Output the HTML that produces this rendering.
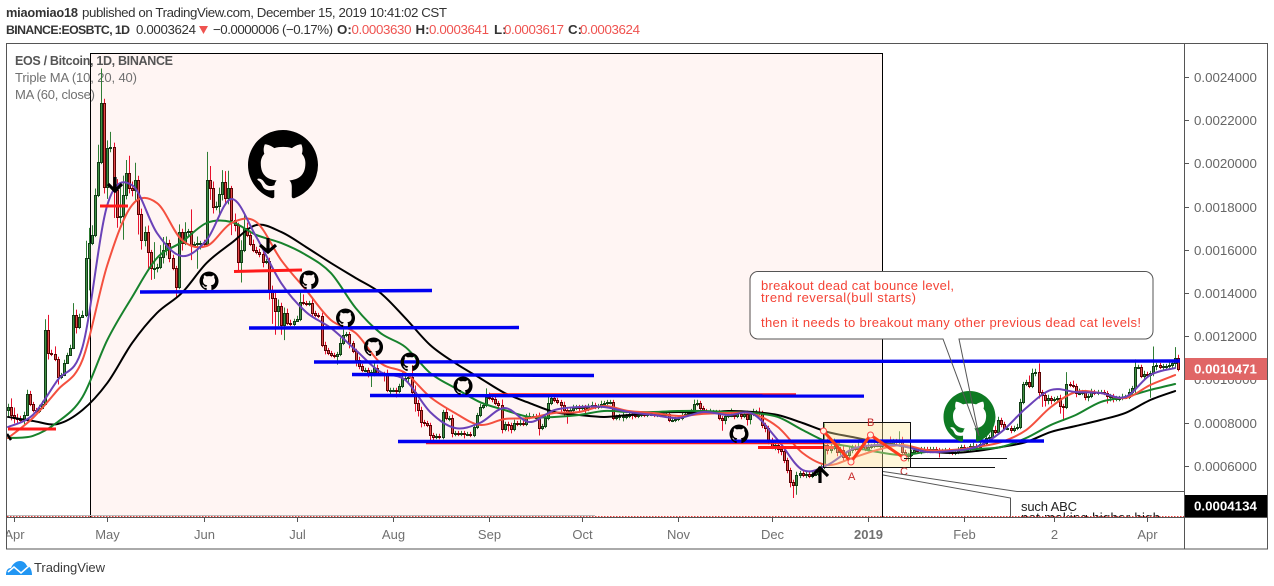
<!DOCTYPE html>
<html lang="en">
<head>
<meta charset="utf-8">
<title>EOS / Bitcoin chart</title>
<style>
html,body{margin:0;padding:0;background:#fff;width:1274px;height:586px;overflow:hidden}
svg{display:block;font-family:"Liberation Sans",sans-serif}
</style>
</head>
<body>
<svg id="chart" xmlns="http://www.w3.org/2000/svg" width="1274" height="586" viewBox="0 0 1274 586">
<defs>
<clipPath id="plot"><rect x="7" y="44" width="1177" height="473"/></clipPath>
<clipPath id="timeclip"><rect x="7" y="518" width="1177" height="31"/></clipPath>
<path id="mark" d="M8 0C3.58 0 0 3.58 0 8c0 3.54 2.29 6.53 5.47 7.59.4.07.55-.17.55-.38 0-.19-.01-.82-.01-1.49-2.01.37-2.53-.49-2.69-.94-.09-.23-.48-.94-.82-1.13-.28-.15-.68-.52-.01-.53.63-.01 1.08.58 1.23.82.72 1.21 1.87.87 2.33.66.07-.52.28-.87.51-1.07-1.78-.2-3.64-.89-3.64-3.95 0-.87.31-1.59.82-2.15-.08-.2-.36-1.02.08-2.12 0 0 .67-.21 2.2.82.64-.18 1.32-.27 2-.27.68 0 1.36.09 2 .27 1.53-1.04 2.2-.82 2.2-.82.44 1.1.16 1.92.08 2.12.51.56.82 1.28.82 2.15 0 3.07-1.87 3.75-3.65 3.95.29.25.54.73.54 1.48 0 1.07-.01 1.93-.01 2.2 0 .21.15.46.55.38A8.013 8.013 0 0016 8c0-4.42-3.58-8-8-8z"/>
</defs>

<g font-size="13.3" fill="#333">
<text x="6" y="17" font-size="12.8" font-weight="bold" textLength="72" lengthAdjust="spacing">miaomiao18</text>
<text x="82" y="17" textLength="365" lengthAdjust="spacing">published on TradingView.com, December 15, 2019 10:41:02 CST</text>
<text x="6" y="34" font-size="12.3" font-weight="bold" textLength="124" lengthAdjust="spacing">BINANCE:EOSBTC, 1D</text>
<text x="136" y="34" textLength="60">0.0003624</text>
<path d="M199 26H208L203.500 34Z" fill="#ef5350"/>
<text x="213" y="34" textLength="120">−0.0000006 (−0.17%)</text>
<text x="337" y="34" font-weight="bold">O:</text>
<text x="351.500" y="34" fill="#ef5350" textLength="60">0.0003630</text>
<text x="415.500" y="34" font-weight="bold">H:</text>
<text x="429" y="34" fill="#ef5350" textLength="60">0.0003641</text>
<text x="494" y="34" font-weight="bold">L:</text>
<text x="504" y="34" fill="#ef5350" textLength="60">0.0003617</text>
<text x="568" y="34" font-weight="bold">C:</text>
<text x="580" y="34" fill="#ef5350" textLength="60">0.0003624</text>
</g>

<rect x="90.500" y="53.500" width="792" height="464" fill="#fff5f3" stroke="#000" stroke-width="1"/>

<g font-size="13">
<text x="15" y="65" font-size="12.5" font-weight="bold" fill="#555" textLength="158" lengthAdjust="spacing">EOS / Bitcoin, 1D, BINANCE</text>
<text x="15" y="82" fill="#707070" textLength="122" lengthAdjust="spacing">Triple MA (10, 20, 40)</text>
<text x="15" y="99" fill="#707070" textLength="80" lengthAdjust="spacing">MA (60, close)</text>
</g>

<g id="candles" clip-path="url(#plot)"></g>
<g id="averages" clip-path="url(#plot)" fill="none" stroke-width="2" stroke-linejoin="round" stroke-linecap="round"></g>

<g clip-path="url(#plot)">
<g stroke="#ff1a1a" fill="none">
<line x1="8" y1="429" x2="56" y2="429" stroke-width="3"/>
<line x1="100" y1="206" x2="128" y2="206" stroke-width="3"/>
<line x1="234" y1="271.500" x2="302" y2="270" stroke-width="3"/>
<line x1="758" y1="447.500" x2="834" y2="447.500" stroke-width="3"/>
<line x1="490" y1="394" x2="796" y2="394" stroke-width="1.500"/>
<line x1="426" y1="443.500" x2="840" y2="443.500" stroke-width="1.500"/>
</g>
<rect x="823.500" y="422.500" width="87" height="45" fill="#ffe9a0" fill-opacity=".38" stroke="#111" stroke-width="1"/>
<g stroke="#0000f0" stroke-width="3.400">
<line x1="140" y1="292" x2="432" y2="290.500"/>
<line x1="249" y1="328" x2="519" y2="327.500"/>
<line x1="314" y1="362" x2="1180" y2="361"/>
<line x1="352" y1="374.500" x2="594" y2="375.500"/>
<line x1="370" y1="395.500" x2="864" y2="396"/>
<line x1="398" y1="441.500" x2="1044" y2="441"/>
</g>
<g>
<polyline points="823.500,431 851,462 870.500,435 904,458" fill="none" stroke="#ff3a1a" stroke-width="3"/>
<circle cx="823.500" cy="431" r="3" fill="#fff3e0" stroke="#f44" stroke-width="1"/>
<circle cx="851" cy="462" r="3" fill="#fff3e0" stroke="#f44" stroke-width="1"/>
<circle cx="870.500" cy="435" r="3" fill="#fff3e0" stroke="#f44" stroke-width="1"/>
<circle cx="904" cy="458" r="3" fill="#fff3e0" stroke="#f44" stroke-width="1"/>
<text x="867" y="426" font-size="11" fill="#c62828">B</text>
<text x="848" y="480" font-size="11" fill="#c62828">A</text>
<text x="900" y="475" font-size="11" fill="#c62828">C</text>
</g>
<g stroke="#111" stroke-width="1">
<line x1="904" y1="458.500" x2="1007" y2="458.500"/>
<line x1="911" y1="467.500" x2="995" y2="467.500"/>
</g>
<g fill="#000" fill-rule="evenodd">
<use href="#mark" transform="translate(248,130) scale(4.375)"/>
<use href="#mark" transform="translate(199.500,271.500) scale(1.190)"/>
<use href="#mark" transform="translate(299.500,270.500) scale(1.190)"/>
<use href="#mark" transform="translate(336,308.500) scale(1.190)"/>
<use href="#mark" transform="translate(364,337.500) scale(1.190)"/>
<use href="#mark" transform="translate(400.500,352.500) scale(1.190)"/>
<use href="#mark" transform="translate(453.500,376.500) scale(1.190)"/>
<use href="#mark" transform="translate(729.500,424.500) scale(1.190)"/>
<use href="#mark" fill="#0e7a23" transform="translate(943.500,391) scale(3.250)"/>
</g>
<g fill="none" stroke="#000" stroke-width="3.200">
<path d="M115 177V192M108 184L115 191L122 184"/>
<path d="M268 238V253M260 245L268 252L276 245"/>
<path d="M820 483V469M812 476L820 468L828 476"/>
<path d="M7 434L11 440" stroke-width="2.500"/>
</g>
<g fill="none" stroke="#555" stroke-width="1">
<path d="M883 471.500L1017 491.500H1184"/>
<path d="M883 475L1010.500 498V517"/>
</g>
<text x="1021" y="511" font-size="13" fill="#222" textLength="56" lengthAdjust="spacing">such ABC</text>
<text x="1021" y="522" font-size="13" fill="#111" textLength="139" lengthAdjust="spacing">not making higher high</text>
<line x1="7" y1="515.500" x2="595" y2="515.500" stroke="#bbb" stroke-width="1"/>
<line x1="7" y1="516.500" x2="1184" y2="516.500" stroke="#e53935" stroke-width="1" stroke-dasharray="1.500 1.500"/>
</g>

<g>
<path d="M758 271.500H1145a8 8 0 0 1 8 8V331a8 8 0 0 1-8 8H959L979 436L943 339H758a8 8 0 0 1-8-8V279.500a8 8 0 0 1 8-8Z" fill="none" stroke="#555" stroke-width="1"/>
<rect x="751" y="272" width="401" height="66.500" rx="7.500" fill="#fff"/>
<text x="761" y="290" font-size="13" fill="#f44336" textLength="193" lengthAdjust="spacing">breakout dead cat bounce level,</text>
<text x="761" y="302" font-size="13" fill="#f44336" textLength="155" lengthAdjust="spacing">trend reversal(bull starts)</text>
<text x="761" y="327" font-size="13" fill="#f44336" textLength="380" lengthAdjust="spacing">then it needs to breakout many other previous dead cat levels!</text>
</g>

<g fill="none" stroke="#555" stroke-width="1">
<rect x="6.500" y="43.500" width="1261" height="505.500"/>
<line x1="1184.500" y1="43.500" x2="1184.500" y2="549"/>
<line x1="6.500" y1="517.500" x2="1267.500" y2="517.500"/>
</g>
<g id="xaxis" font-size="13" fill="#707070" text-anchor="middle" clip-path="url(#timeclip)"></g>
<g id="yaxis" font-size="13.300" fill="#666"></g>

<g id="pricelabels" font-size="13.300" font-weight="bold" fill="#fff"></g>

<g>
<path d="M6 575C6 570 8 568 11 568C13 563 17 561 20 561C24 561 26 564 27 566C30 566 32 570 32 575Z" fill="#2196f3"/>
<polyline points="8,572 14,567 21,573 29,566" fill="none" stroke="#fff" stroke-width="1.500"/>
<text x="34" y="572" font-size="13" fill="#3a3a3a" textLength="71" lengthAdjust="spacing">TradingView</text>
</g>
</svg>

<script>
// All prices are in units of 0.0000001 BTC.
const closes = [
8720,8350,8210,8165,8120,8350,9320,8860,8580,8535,
8675,8860,12285,11220,11175,10945,10110,10200,10760,11130,
11450,12980,12425,12890,12980,15620,16315,16685,18535,20065,
22795,18905,20715,20760,18770,17520,17565,18535,19555,18860,
18770,19230,17655,16455,16825,15895,15155,15155,15205,15665,
15990,16315,15620,15155,14275,16825,16315,16825,16870,16220,
16270,16315,16315,16270,19230,18860,17980,18030,18580,19140,
18400,18860,17380,17150,15435,15990,17010,16685,16270,15990,
15895,15805,15435,15480,14140,13770,13165,13400,12515,13075,
12610,12565,12705,12795,13585,13535,13490,13535,13075,12980,
12935,11590,11360,11220,11130,11080,11175,11685,12055,12100,
11685,11315,10900,10620,10435,10435,10295,10340,10525,10295,
10250,10200,9510,9510,9510,9460,9695,10065,10065,10110,
9415,8905,8580,8025,7980,7890,7425,7330,7380,7330,
8490,8210,8210,7515,7515,7470,7515,7470,7470,7425,
7795,8350,8720,8815,9185,9135,9090,8905,8815,7700,
7935,7890,7700,7980,7935,7980,7935,8305,8305,8305,
8210,7750,7840,8210,8905,9135,9045,8950,8815,8580,
8445,8580,8675,8720,8675,8720,8630,8720,8815,8720,
8765,8860,8905,8950,8950,8210,8260,8305,8305,8305,
8400,8350,8305,8350,8400,8350,8400,8400,8350,8400,
8350,8400,8400,8120,8120,8165,8210,8350,8400,8445,
8535,8860,8905,8675,8535,8490,8490,8490,8490,8210,
8120,8305,8350,8350,8305,8400,8305,8400,8165,8400,
8490,8490,8445,7890,7750,7195,6870,6960,6775,6685,
6270,5805,5250,5110,5575,5665,5575,5620,5525,5620,
5620,5805,5945,6960,6730,6825,6915,6640,6730,6405,
6500,6730,6870,6775,6870,6960,6775,6870,6915,6960,
6960,6960,7010,7055,7010,7145,7100,7145,6640,6500,
6500,6640,6730,6685,6775,6775,6685,6775,6775,6730,
6685,6685,6730,6640,6590,6640,6775,6870,6775,6775,
6915,6915,6870,7010,7055,7285,7330,7655,7565,8120,
7935,7750,7750,7655,7750,7795,8950,9785,9880,9695,
10295,10340,9415,9275,9045,9135,9045,9090,9135,8765,
8720,9785,9740,9695,9370,9370,9415,9185,9230,9415,
9370,9415,9415,9370,9230,9230,9135,9135,9135,9185,
9185,9415,9600,10575,10575,10155,10250,10200,10295,10620,
10665,10575,10620,10620,10665,10760,10990,10471
];
const upperWicks = [
150,400,350,200,150,150,200,150,100,100,
150,150,500,700,150,350,100,100,150,100,
150,550,250,150,200,800,700,450,300,800,
1600,200,350,700,200,500,1300,900,600,800,
300,800,200,250,250,300,100,1200,150,550,
600,300,150,150,100,350,150,450,100,1000,
100,300,100,150,1300,650,300,200,300,550,
500,800,100,300,100,450,600,250,200,200,
150,150,300,100,150,200,250,300,150,250,
200,150,100,150,550,350,100,100,250,100,
100,150,150,100,100,100,100,250,250,100,
100,100,100,150,100,100,100,100,250,150,
100,100,250,100,100,100,100,250,100,150,
550,300,150,150,100,100,100,100,100,100,
100,150,100,150,100,100,100,100,100,100,
100,100,150,100,400,200,100,150,100,250,
100,100,100,150,100,150,200,100,150,100,
100,250,100,100,400,150,150,100,100,150,
100,100,150,100,100,100,100,150,150,100,
100,150,100,100,100,100,100,100,150,100,
100,100,100,100,100,100,100,100,100,100,
100,100,100,100,100,100,100,100,100,100,
100,200,150,100,100,100,150,100,100,100,
100,150,100,300,150,100,150,100,150,100,
150,100,200,100,100,100,100,150,100,100,
100,100,100,100,150,100,150,100,100,100,
150,150,100,1000,300,250,350,100,150,200,
100,200,100,100,300,100,150,200,100,100,
100,150,100,100,300,100,100,450,200,100,
100,100,100,100,100,100,100,100,100,100,
100,100,100,100,100,100,100,100,100,100,
100,150,100,200,100,200,100,250,200,150,
100,100,100,100,100,150,150,100,100,300,
200,150,400,100,100,150,100,100,100,150,
100,550,100,200,100,200,100,100,100,150,
100,100,100,100,100,100,100,100,100,150,
100,150,100,350,100,100,150,100,100,900,
100,100,100,100,150,150,500,150
];
const lowerWicks = [
300,250,250,250,150,200,50,100,100,100,
100,50,0,300,100,100,350,100,50,50,
50,50,300,100,50,100,1500,100,100,100,
100,300,550,200,1300,500,300,1100,200,250,
300,500,950,450,300,750,550,500,200,100,
300,250,200,100,450,100,350,100,200,700,
100,1150,300,150,100,550,300,150,400,300,
300,300,700,300,450,950,100,100,100,100,
100,150,250,100,450,1200,1100,700,450,700,
100,100,100,50,100,100,100,100,200,100,
100,100,200,100,100,100,400,100,100,100,
250,100,300,150,100,100,200,650,200,100,
100,300,100,300,100,300,100,100,100,200,
200,400,300,250,150,100,400,200,100,100,
100,100,150,200,150,100,100,200,100,100,
100,100,100,100,100,100,150,100,200,200,
100,300,200,100,100,100,100,100,150,100,
100,350,100,100,100,100,100,100,300,300,
500,100,150,100,150,100,200,100,100,100,
100,100,100,100,100,100,100,150,250,150,
100,200,100,100,100,100,100,100,100,100,
100,100,100,100,100,100,100,100,100,100,
100,100,100,100,100,100,100,100,100,100,
500,200,100,100,150,100,150,100,300,250,
100,100,100,150,200,200,100,150,200,200,
150,150,250,600,450,150,100,150,100,100,
100,100,100,100,200,150,100,200,150,200,
150,250,150,100,150,150,100,100,100,100,
100,150,100,100,150,100,100,150,100,100,
300,100,100,100,150,100,100,100,100,100,
300,100,100,100,100,100,100,100,100,100,
100,100,100,100,100,100,100,100,100,100,
150,100,100,150,100,100,100,100,100,100,
100,150,300,550,300,200,200,100,100,350,
650,100,100,100,200,100,100,150,200,100,
100,100,100,100,350,250,200,150,150,100,
100,100,100,250,100,100,200,100,1050,150,
200,100,150,200,150,150,250,100
];
// Moving averages, read once every maStep candles.
const maStep = 8;
const ma10 = [7795,8350,9970,11500,18075,18990,16775,15710,16455,18350,16590,14460,13120,12380,11360,10340,9970,8490,7750,7980,8675,8025,8580,8720,8720,8490,8350,8210,8490,8350,8400,7195,5805,6035,6775,6960,6915,6640,6685,6870,7565,8675,9510,9415,9370,9185,10200,10525];
const ma20 = [7285,8210,9510,10900,15295,18075,18165,16455,16175,17240,17285,15525,14140,12750,12145,10760,10295,9185,8445,7890,8165,8210,8445,8490,8765,8535,8445,8305,8400,8445,8400,7795,6590,6035,6360,6730,6960,6730,6730,6870,7100,7655,8720,9415,9370,9135,9740,10200];
const ma40 = [7285,7380,8025,9185,11825,13815,15620,16360,17240,17285,16685,16315,15760,14925,13305,12145,11500,10295,9600,8950,8580,8260,8260,8350,8535,8490,8490,8535,8535,8490,8445,8260,7655,7100,6870,6640,6500,6640,6685,6775,6870,7285,7890,8350,8950,9185,9510,9785];
const ma60 = [8260,8075,7935,8580,9835,11685,13075,14000,15390,16315,17145,16825,16130,15390,14695,14000,12840,11590,10760,10065,9370,8905,8490,8350,8260,8350,8445,8490,8445,8535,8490,8350,7980,7565,7330,7100,6915,6685,6590,6685,6870,7100,7565,7840,8120,8445,9045,9460];
const seriesNames = ['ma-10-purple','ma-20-red','ma-40-green','ma-60-black'];
const seriesColors = ['#6a42b8','#f4503f','#17822c','#000000'];
const priceTicks = [24000,22000,20000,18000,16000,14000,12000,10000,8000,6000];
const timeLabels = ['Apr','May','Jun','Jul','Aug','Sep','Oct','Nov','Dec','2019','Feb','2','Apr'];
const timeCandles = [2,32,63,93,124,155,185,216,246,277,308,337,367];
const lastPrice = 10471;
const markerPrice = 4134;

const NS = 'http://www.w3.org/2000/svg';
function xOf(i){ return 8 + 3.104 * i; }
function yOf(p){ return 595.35 - p / 46.3; }
function fmt(p){ return (p / 1e7).toFixed(7); }
function mk(tag, parent){ const el = document.createElementNS(NS, tag); parent.appendChild(el); return el; }

const candleLayer = document.getElementById('candles');
closes.forEach(function(c, i){
  const o = i === 0 ? 8580 : closes[i - 1];
  const up = c >= o;
  const top = Math.max(o, c), bot = Math.min(o, c);
  const cx = Math.round(xOf(i)) + 0.5;
  const wick = mk('line', candleLayer);
  
  
  wick.setAttribute('x1', cx);
  wick.setAttribute('x2', cx);
  wick.setAttribute('y1', yOf(top + upperWicks[i]));
  wick.setAttribute('y2', yOf(bot - lowerWicks[i]));
  wick.setAttribute('stroke', up ? '#2f7d34' : '#e8112d');
  const yT = Math.round(yOf(top)) + 0.5;
  const yB = Math.max(Math.round(yOf(bot)) + 0.5, yT + 1);
  const body = mk('rect', candleLayer);
  
  
  body.setAttribute('x', cx - 1);
  body.setAttribute('width', 2);
  body.setAttribute('y', yT);
  body.setAttribute('height', yB - yT);
  body.setAttribute('fill', up ? '#3f8f42' : '#e04848');
  body.setAttribute('stroke', up ? '#123d17' : '#5a0505');
});

function smoothPath(values){
  const pts = values.map(function(v, k){ return [xOf(k * maStep), yOf(v)]; });
  let d = 'M' + pts[0][0] + ' ' + pts[0][1];
  for (let k = 0; k < pts.length - 1; k++){
    const p0 = pts[Math.max(k - 1, 0)], p1 = pts[k], p2 = pts[k + 1], p3 = pts[Math.min(k + 2, pts.length - 1)];
    const c1x = p1[0] + (p2[0] - p0[0]) / 6, c1y = p1[1] + (p2[1] - p0[1]) / 6;
    const c2x = p2[0] - (p3[0] - p1[0]) / 6, c2y = p2[1] - (p3[1] - p1[1]) / 6;
    d += 'C' + c1x + ' ' + c1y + ' ' + c2x + ' ' + c2y + ' ' + p2[0] + ' ' + p2[1];
  }
  return d;
}
const avgLayer = document.getElementById('averages');
[ma60, ma40, ma20, ma10].forEach(function(values, n){
  const idx = 3 - n;
  const line = mk('path', avgLayer);
  
  
  line.setAttribute('d', smoothPath(values));
  line.setAttribute('stroke', seriesColors[idx]);
});

const yAxis = document.getElementById('yaxis');
priceTicks.forEach(function(p){
  const y = Math.round(yOf(p)) + 0.5;
  const tick = mk('line', yAxis);
  
  
  tick.setAttribute('x1', 1185);
  tick.setAttribute('x2', 1189);
  tick.setAttribute('y1', y);
  tick.setAttribute('y2', y);
  tick.setAttribute('stroke', '#555');
  const label = mk('text', yAxis);
  
  
  label.setAttribute('x', 1194);
  label.setAttribute('y', y + 4.5);
  label.textContent = fmt(p);
});

const xAxis = document.getElementById('xaxis');
timeLabels.forEach(function(t, n){
  const x = Math.round(xOf(timeCandles[n])) + 0.5;
  const tick = mk('line', xAxis);
  
  
  tick.setAttribute('x1', x);
  tick.setAttribute('x2', x);
  tick.setAttribute('y1', 518);
  tick.setAttribute('y2', 522);
  tick.setAttribute('stroke', '#555');
  const label = mk('text', xAxis);
  
  
  label.setAttribute('x', x);
  label.setAttribute('y', 539);
  if (t === '2019') label.setAttribute('font-weight', 'bold');
  label.textContent = t;
});

const priceLabels = document.getElementById('pricelabels');
[[lastPrice, '#e06666', 'last-price-label'], [markerPrice, '#000000', 'marker-price-label']].forEach(function(item){
  const y = yOf(item[0]);
  const box = mk('rect', priceLabels);
  
  
  box.setAttribute('x', 1185);
  box.setAttribute('y', Math.round(y) - 11);
  box.setAttribute('width', 82);
  box.setAttribute('height', 22);
  box.setAttribute('fill', item[1]);
  const text = mk('text', priceLabels);
  
  
  text.setAttribute('x', 1194);
  text.setAttribute('y', Math.round(y) + 4.5);
  text.textContent = fmt(item[0]);
});
</script>
</body>
</html>
